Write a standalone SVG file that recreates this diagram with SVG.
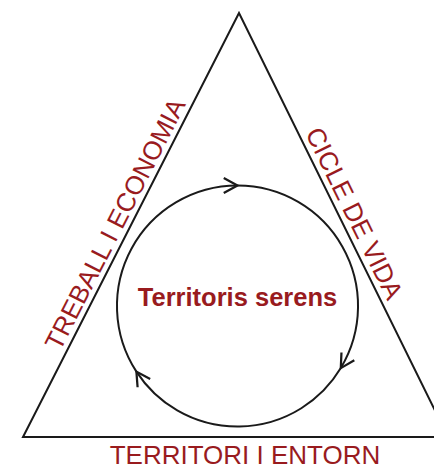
<svg xmlns="http://www.w3.org/2000/svg" width="434" height="470" viewBox="0 0 434 470">
  <style>
    .edge { fill: none; stroke: #1a1a1a; stroke-width: 2; }
    .lbl { font-family: "Liberation Sans", Arial, sans-serif; fill: #991b1e; font-size: 26px; }
    .title { font-weight: bold; font-size: 25.5px; }
  </style>
  <defs>
    <marker id="chev" markerUnits="userSpaceOnUse" markerWidth="20" markerHeight="20" refX="0" refY="0" viewBox="-12 -8 14 16" orient="auto">
      <path d="M-11,-6 L0,0 L-11,6" fill="none" stroke="#1a1a1a" stroke-width="1.8"/>
    </marker>
  </defs>
  <rect width="434" height="470" fill="#ffffff"/>
  <g id="triangle">
    <polygon class="edge" points="239,13 23,437 448,437"/>
  </g>
  <g id="connectors">
    <path class="edge" d="M237.5,185.5 A120.5,120.5 0 0 1 340.8,368.1" marker-end="url(#chev)"/>
    <path class="edge" d="M340.8,368.1 A120.5,120.5 0 0 1 136.4,371.6" marker-end="url(#chev)"/>
    <path class="edge" d="M136.4,371.6 A120.5,120.5 0 0 1 237.5,185.5" marker-end="url(#chev)"/>
  </g>
  <g id="center">
    <text class="lbl title" x="237.5" y="306" text-anchor="middle">Territoris serens</text>
  </g>
  <g id="left-side">
    <text class="lbl" transform="translate(60,352) rotate(-63)">TREBALL I ECONOMIA</text>
  </g>
  <g id="right-side">
    <text class="lbl" transform="translate(305,133) rotate(63.9)">CICLE DE VIDA</text>
  </g>
  <g id="bottom-side">
    <text class="lbl" x="245" y="464" text-anchor="middle" font-size="25.5">TERRITORI I ENTORN</text>
  </g>
</svg>
